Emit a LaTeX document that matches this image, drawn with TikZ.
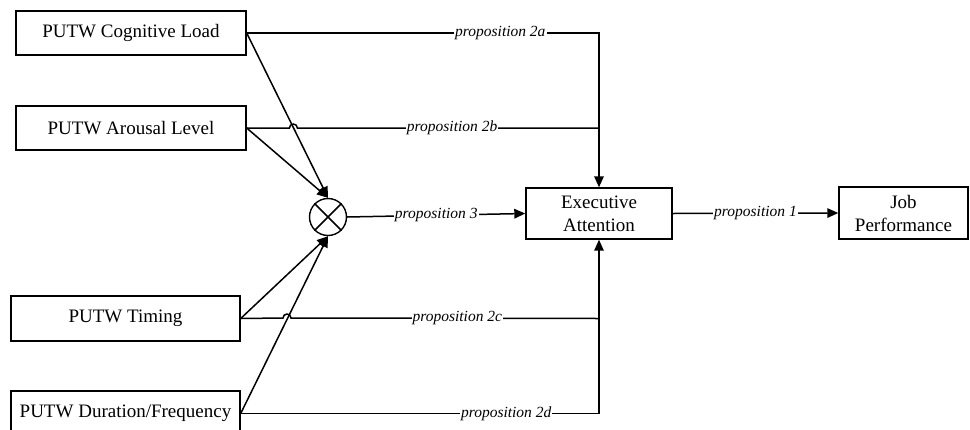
\documentclass[tikz,border=0pt]{standalone}
\usepackage{fontspec}
\setmainfont{Liberation Serif}
\usetikzlibrary{arrows.meta,calc}
\tikzset{
  box/.style={draw,line width=1.4pt,rectangle,inner sep=0pt,align=center,font=\fontsize{19}{23}\selectfont},
  lab/.style={fill=white,inner sep=1pt,font=\fontsize{15.5}{17}\selectfont\itshape},
  conn/.style={line width=1.5pt},
  arr/.style={conn,-{Triangle[length=11pt,width=9.5pt]}},
}
\begin{document}
\begin{tikzpicture}[x=1pt,y=-1pt]
\useasboundingbox (0,0) rectangle (970,429);
\node[box,minimum width=230,minimum height=44] (cog) at (131,33) {PUTW Cognitive Load};
\node[box,minimum width=230,minimum height=44] (aro) at (131,128) {PUTW Arousal Level};
\node[box,minimum width=229,minimum height=45] (tim) at (125.5,318.5) {PUTW Timing};
\node[box,minimum width=229,minimum height=45] (dur) at (125.5,413.5) {PUTW Duration/Frequency};
\node[draw,circle,line width=1.4pt,minimum size=37,inner sep=0pt] (mult) at (328,217) {};
\node[box,minimum width=146,minimum height=51] (exe) at (599,213.5) {Executive\\Attention};
\node[box,minimum width=129,minimum height=52] (job) at (903.5,213) {Job\\Performance};
% cross in circle
\draw[conn] (mult.north east) -- (mult.south west);
\draw[conn] (mult.north west) -- (mult.south east);
% inputs to circle
\draw[arr] (cog.east) -- (mult.north);
\draw[arr] (aro.east) -- (mult.north);
\draw[arr] (tim.east) -- (mult.south);
\draw[arr] (dur.east) -- (mult.south);
% hop points
\coordinate (hopb) at (293.4,128);
\coordinate (hopc) at (287,318);
% proposition 3 and 1
\draw[arr] (mult.east) -- node[lab] {proposition 3} (exe.west);
\draw[arr] (exe.east) -- node[lab] {proposition 1} (job.west);
% proposition 2a
\draw[arr] (cog.east) -- node[lab,pos=0.72] {proposition 2a} (cog.east -| exe.north) -- (exe.north);
% proposition 2b with hop
\draw[conn] (aro.east) -- ($(hopb)+(-4,0)$) arc[start angle=180,end angle=360,radius=4]
  -- node[lab,pos=0.513] {proposition 2b} (aro.east -| exe.north);
% proposition 2c with hop
\draw[conn] (tim.east) -- ($(hopc)+(-4,0)$) arc[start angle=180,end angle=360,radius=4]
  -- node[lab,pos=0.54] {proposition 2c} (tim.east -| exe.south);
% proposition 2d
\draw[arr] (dur.east) -- node[lab,pos=0.741] {proposition 2d} (dur.east -| exe.south) -- (exe.south);
\end{tikzpicture}
\end{document}
